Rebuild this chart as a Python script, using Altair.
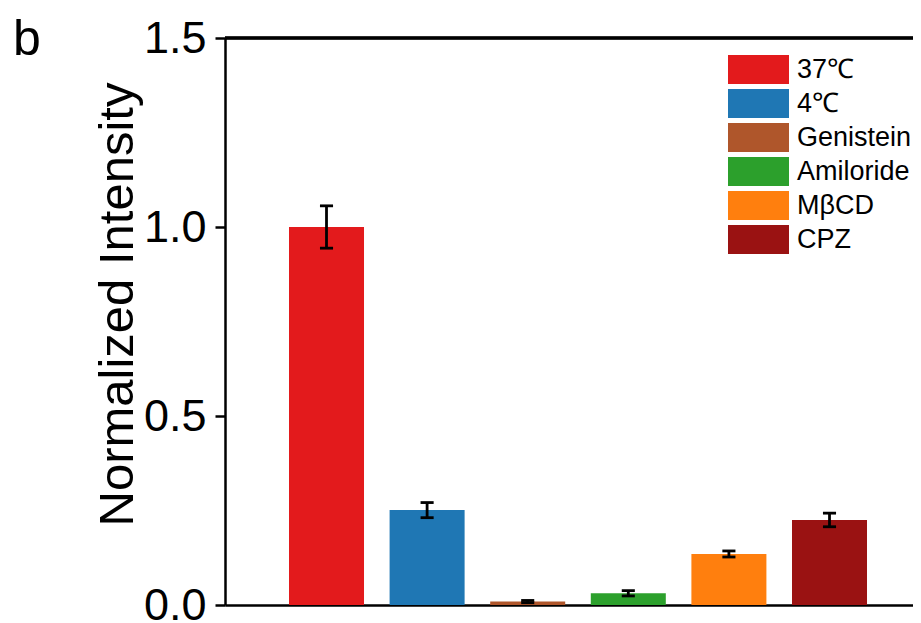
import altair as alt
import pandas as pd

categories = ["37℃", "4℃", "Genistein", "Amiloride", "MβCD", "CPZ"]
values = [1.0, 0.251, 0.009, 0.031, 0.135, 0.225]
errors = [0.056, 0.020, 0.003, 0.007, 0.008, 0.018]
colors = ["#E31A1C", "#1F77B4", "#AF562B", "#2CA02C", "#FF7F0E", "#9A1212"]
y_ticks = [0.0, 0.5, 1.0, 1.5]
panel_label = ["b"]

FONT = "Liberation Sans"
W, H = 688, 567
HALF_BAR = 0.3728
HALF_CAP = 0.065

df = pd.DataFrame({
    "cat": categories,
    "idx": list(range(len(categories))),
    "val": values,
    "err": errors,
})

base = alt.Chart(df).transform_calculate(
    left=f"datum.idx - {HALF_BAR}",
    right=f"datum.idx + {HALF_BAR}",
    capl=f"datum.idx - {HALF_CAP}",
    capr=f"datum.idx + {HALF_CAP}",
    lo="datum.val - datum.err",
    hi="datum.val + datum.err",
)

xscale = alt.Scale(domain=[-1.009, 5.830], nice=False, zero=False, padding=0)
yscale = alt.Scale(domain=[0, 1.5], nice=False, zero=True, padding=0)

bars = base.mark_bar(strokeWidth=0, orient="vertical").encode(
    x=alt.X("left:Q", scale=xscale,
            axis=alt.Axis(labels=False, ticks=False, grid=False, title="",
                          domain=True, domainColor="black", domainWidth=2.5)),
    x2="right:Q",
    y=alt.Y("val:Q", scale=yscale,
            axis=alt.Axis(values=y_ticks, format=".1f", grid=False,
                          domainColor="black", domainWidth=2.5,
                          tickColor="black", tickWidth=2.5, tickSize=10,
                          labelFont=FONT, labelFontSize=45, labelColor="black",
                          labelPadding=9,
                          title="Normalized Intensity", titleFont=FONT,
                          titleFontSize=49, titleFontWeight="normal",
                          titleColor="black", titleAngle=270,
                          titleX=-93, titleY=266, titleAlign="center",
                          titleBaseline="alphabetic")),
    y2=alt.datum(0),
    color=alt.Color("cat:N",
                    scale=alt.Scale(domain=categories, range=colors),
                    legend=alt.Legend(orient="none", legendX=503, legendY=17,
                                      title=None, padding=0, rowPadding=5,
                                      symbolType="M-1,-1L3.207,-1L3.207,1L-1,1Z",
                                      symbolSize=841, symbolStrokeWidth=0,
                                      symbolOpacity=1,
                                      labelFont=FONT, labelFontSize=27,
                                      labelColor="black", labelOffset=40,
                                      labelLimit=300)),
)

stem = base.mark_rule(color="black", strokeWidth=2.8).encode(
    x=alt.X("idx:Q", scale=xscale),
    y=alt.Y("lo:Q", scale=yscale),
    y2="hi:Q",
)
cap_hi = base.mark_rule(color="black", strokeWidth=2.8).encode(
    x=alt.X("capl:Q", scale=xscale),
    x2="capr:Q",
    y=alt.Y("hi:Q", scale=yscale),
)
cap_lo = base.mark_rule(color="black", strokeWidth=2.8).encode(
    x=alt.X("capl:Q", scale=xscale),
    x2="capr:Q",
    y=alt.Y("lo:Q", scale=yscale),
)

top_line = alt.Chart(df).mark_rule(color="black", strokeWidth=2.5).encode(
    y=alt.datum(1.5, scale=yscale)
)

label = alt.Chart(pd.DataFrame({"t": panel_label})).mark_text(
    font=FONT, fontSize=50, color="black", align="left", baseline="alphabetic"
).encode(text="t:N", x=alt.value(-212), y=alt.value(17))

chart = alt.layer(bars, stem, cap_hi, cap_lo, top_line, label).properties(
    width=W, height=H,
    autosize=alt.AutoSizeParams(type="none"),
    padding={"left": 217, "top": 30, "right": 0, "bottom": 17},
    background="white",
).configure_view(stroke=None)

chart.save("out.html", embed_options={"renderer": "svg", "actions": False})
